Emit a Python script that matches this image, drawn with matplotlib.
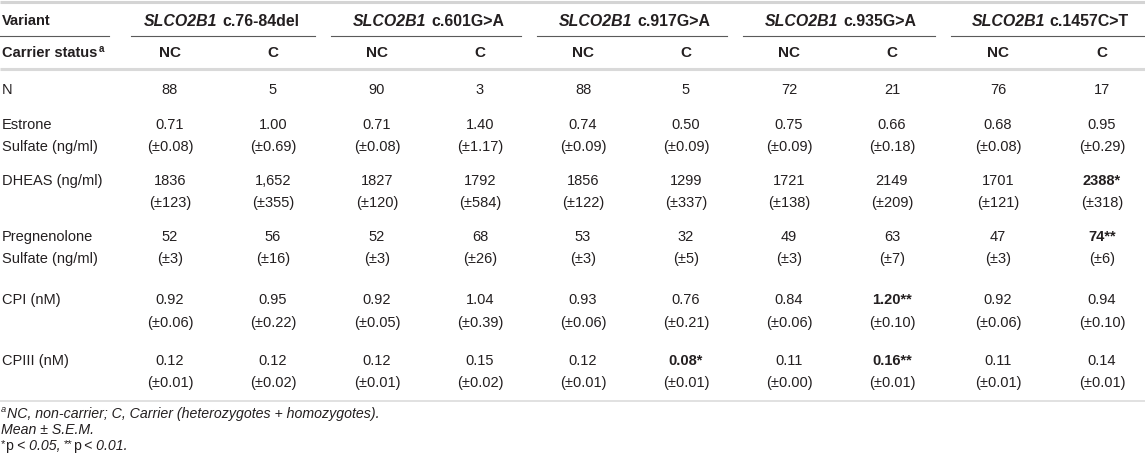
import matplotlib.pyplot as plt

plt.rcParams['font.family'] = ['Liberation Sans', 'DejaVu Sans']

# ---- table content ----
gene = 'SLCO2B1'
variants = ['c.76-84del', 'c.601G>A', 'c.917G>A', 'c.935G>A', 'c.1457C>T']
status = ['NC', 'C'] * 5

row_labels = [['N'], ['Estrone', 'Sulfate (ng/ml)'], ['DHEAS (ng/ml)'],
              ['Pregnenolone', 'Sulfate (ng/ml)'], ['CPI (nM)'], ['CPIII (nM)']]

n_counts = [88, 5, 90, 3, 88, 5, 72, 21, 76, 17]

estrone_mean = ['0.71', '1.00', '0.71', '1.40', '0.74', '0.50', '0.75', '0.66', '0.68', '0.95']
estrone_sem = ['0.08', '0.69', '0.08', '1.17', '0.09', '0.09', '0.09', '0.18', '0.08', '0.29']
estrone_sig = [''] * 10

dheas_mean = ['1836', '1,652', '1827', '1792', '1856', '1299', '1721', '2149', '1701', '2388']
dheas_sem = ['123', '355', '120', '584', '122', '337', '138', '209', '121', '318']
dheas_sig = ['', '', '', '', '', '', '', '', '', '*']

preg_mean = ['52', '56', '52', '68', '53', '32', '49', '63', '47', '74']
preg_sem = ['3', '16', '3', '26', '3', '5', '3', '7', '3', '6']
preg_sig = ['', '', '', '', '', '', '', '', '', '**']

cpi_mean = ['0.92', '0.95', '0.92', '1.04', '0.93', '0.76', '0.84', '1.20', '0.92', '0.94']
cpi_sem = ['0.06', '0.22', '0.05', '0.39', '0.06', '0.21', '0.06', '0.10', '0.06', '0.10']
cpi_sig = ['', '', '', '', '', '', '', '**', '', '']

cpiii_mean = ['0.12', '0.12', '0.12', '0.15', '0.12', '0.08', '0.11', '0.16', '0.11', '0.14']
cpiii_sem = ['0.01', '0.02', '0.01', '0.02', '0.01', '0.01', '0.00', '0.01', '0.01', '0.01']
cpiii_sig = ['', '', '', '', '', '*', '', '**', '', '']

measures = [(estrone_mean, estrone_sem, estrone_sig),
            (dheas_mean, dheas_sem, dheas_sig),
            (preg_mean, preg_sem, preg_sig),
            (cpi_mean, cpi_sem, cpi_sig),
            (cpiii_mean, cpiii_sem, cpiii_sig)]

# ---- layout (pixels) ----
W, H = 1145, 466
fig = plt.figure(figsize=(W / 100, H / 100), dpi=100)
ax = fig.add_axes([0, 0, 1, 1])
ax.set_xlim(0, W)
ax.set_ylim(H, 0)
ax.axis('off')

ink = '#231f20'
fs = 10.5
hfs = 11.4  # variant headers
col_x = [170, 273, 377, 480, 583, 686, 789, 892, 998, 1102]
row_y = [90, 125, 181, 237, 300, 361]
line_gap = 22.5
renderer = fig.canvas.get_renderer()


def runs(x, y, parts, ha='left'):
    # parts: (text, style, dy, extra gap before)
    objs = []
    for s, st, dy, gap in parts:
        t = ax.text(0, y + dy, s, va='center', ha='left', color=ink, **st)
        objs.append((t, gap))
    widths = [t.get_window_extent(renderer).width + g for t, g in objs]
    x0 = x - sum(widths) / 2 if ha == 'center' else x
    for (t, g), w in zip(objs, widths):
        t.set_x(x0 + g)
        x0 += w


space = fs * 100 / 72 * 0.28

# rules
ax.plot([0, W], [1.5, 1.5], color='#d4d4d4', lw=2.2, solid_capstyle='butt')
ax.plot([0, W], [69, 69], color='#d9d9d9', lw=2.2, solid_capstyle='butt')
ax.plot([0, W], [401, 401], color='#d9d9d9', lw=1.1, solid_capstyle='butt')

# header row 1
ax.text(2, 21, 'Variant', fontsize=fs, fontweight='bold', color=ink, va='center')
ax.plot([0, 109], [36, 36], color='#5a5a5a', lw=0.8)
bounds = [125, 325, 531, 737, 945, W + 20]
for i, v in enumerate(variants):
    cx = (col_x[2 * i] + col_x[2 * i + 1]) / 2
    runs(cx, 21, [(gene, dict(fontsize=hfs, fontweight='bold', style='italic'), 0, 0),
                  (v, dict(fontsize=hfs, fontweight='bold'), 0, space * 1.1)], ha='center')
    ax.plot([bounds[i] + 6, min(bounds[i + 1] - 10, W)], [36, 36], color='#5a5a5a', lw=0.8)

# header row 2
runs(2, 53, [('Carrier status', dict(fontsize=fs, fontweight='bold'), 0, 0),
             ('a', dict(fontsize=fs * 0.68, fontweight='bold'), -4, 1.5)])
for x, s in zip(col_x, status):
    ax.text(x, 53, s, fontsize=fs + 0.5, fontweight='bold', color=ink, ha='center', va='center')

# body
for y, lab in zip(row_y, row_labels):
    for k, l in enumerate(lab):
        ax.text(2, y + k * line_gap, l, fontsize=fs, color=ink, va='center')

for x, n in zip(col_x, n_counts):
    ax.text(x, row_y[0], str(n), fontsize=fs, color=ink, ha='center', va='center')

for y, (mean, sem, sig) in zip(row_y[1:], measures):
    for x, m, e, s in zip(col_x, mean, sem, sig):
        ax.text(x, y, m + s, fontsize=fs, color=ink, ha='center', va='center',
                fontweight='bold' if s else 'normal')
        ax.text(x, y + line_gap, '(±' + e + ')', fontsize=fs, color=ink,
                ha='center', va='center')

# footnotes
ffs = 10.2
it = dict(fontsize=ffs, style='italic')
up = dict(fontsize=ffs)
runs(1, 414, [('a', dict(fontsize=ffs * 0.65, style='italic'), -4, 0),
              ('NC, non-carrier; C, Carrier (heterozygotes + homozygotes).', it, 0, 0.5)])
ax.text(1, 430, 'Mean ± S.E.M.', color=ink, va='center', **it)
runs(1, 446, [('*', dict(fontsize=ffs * 0.8), -2, 0), ('p', up, 0, 0),
              ('< 0.05,', it, 0, space * 0.9),
              ('**', dict(fontsize=ffs * 0.8), -2, space * 0.9), ('p', up, 0, 0),
              ('< 0.01.', it, 0, space * 0.9)])

fig.savefig('out.png', dpi=100)
